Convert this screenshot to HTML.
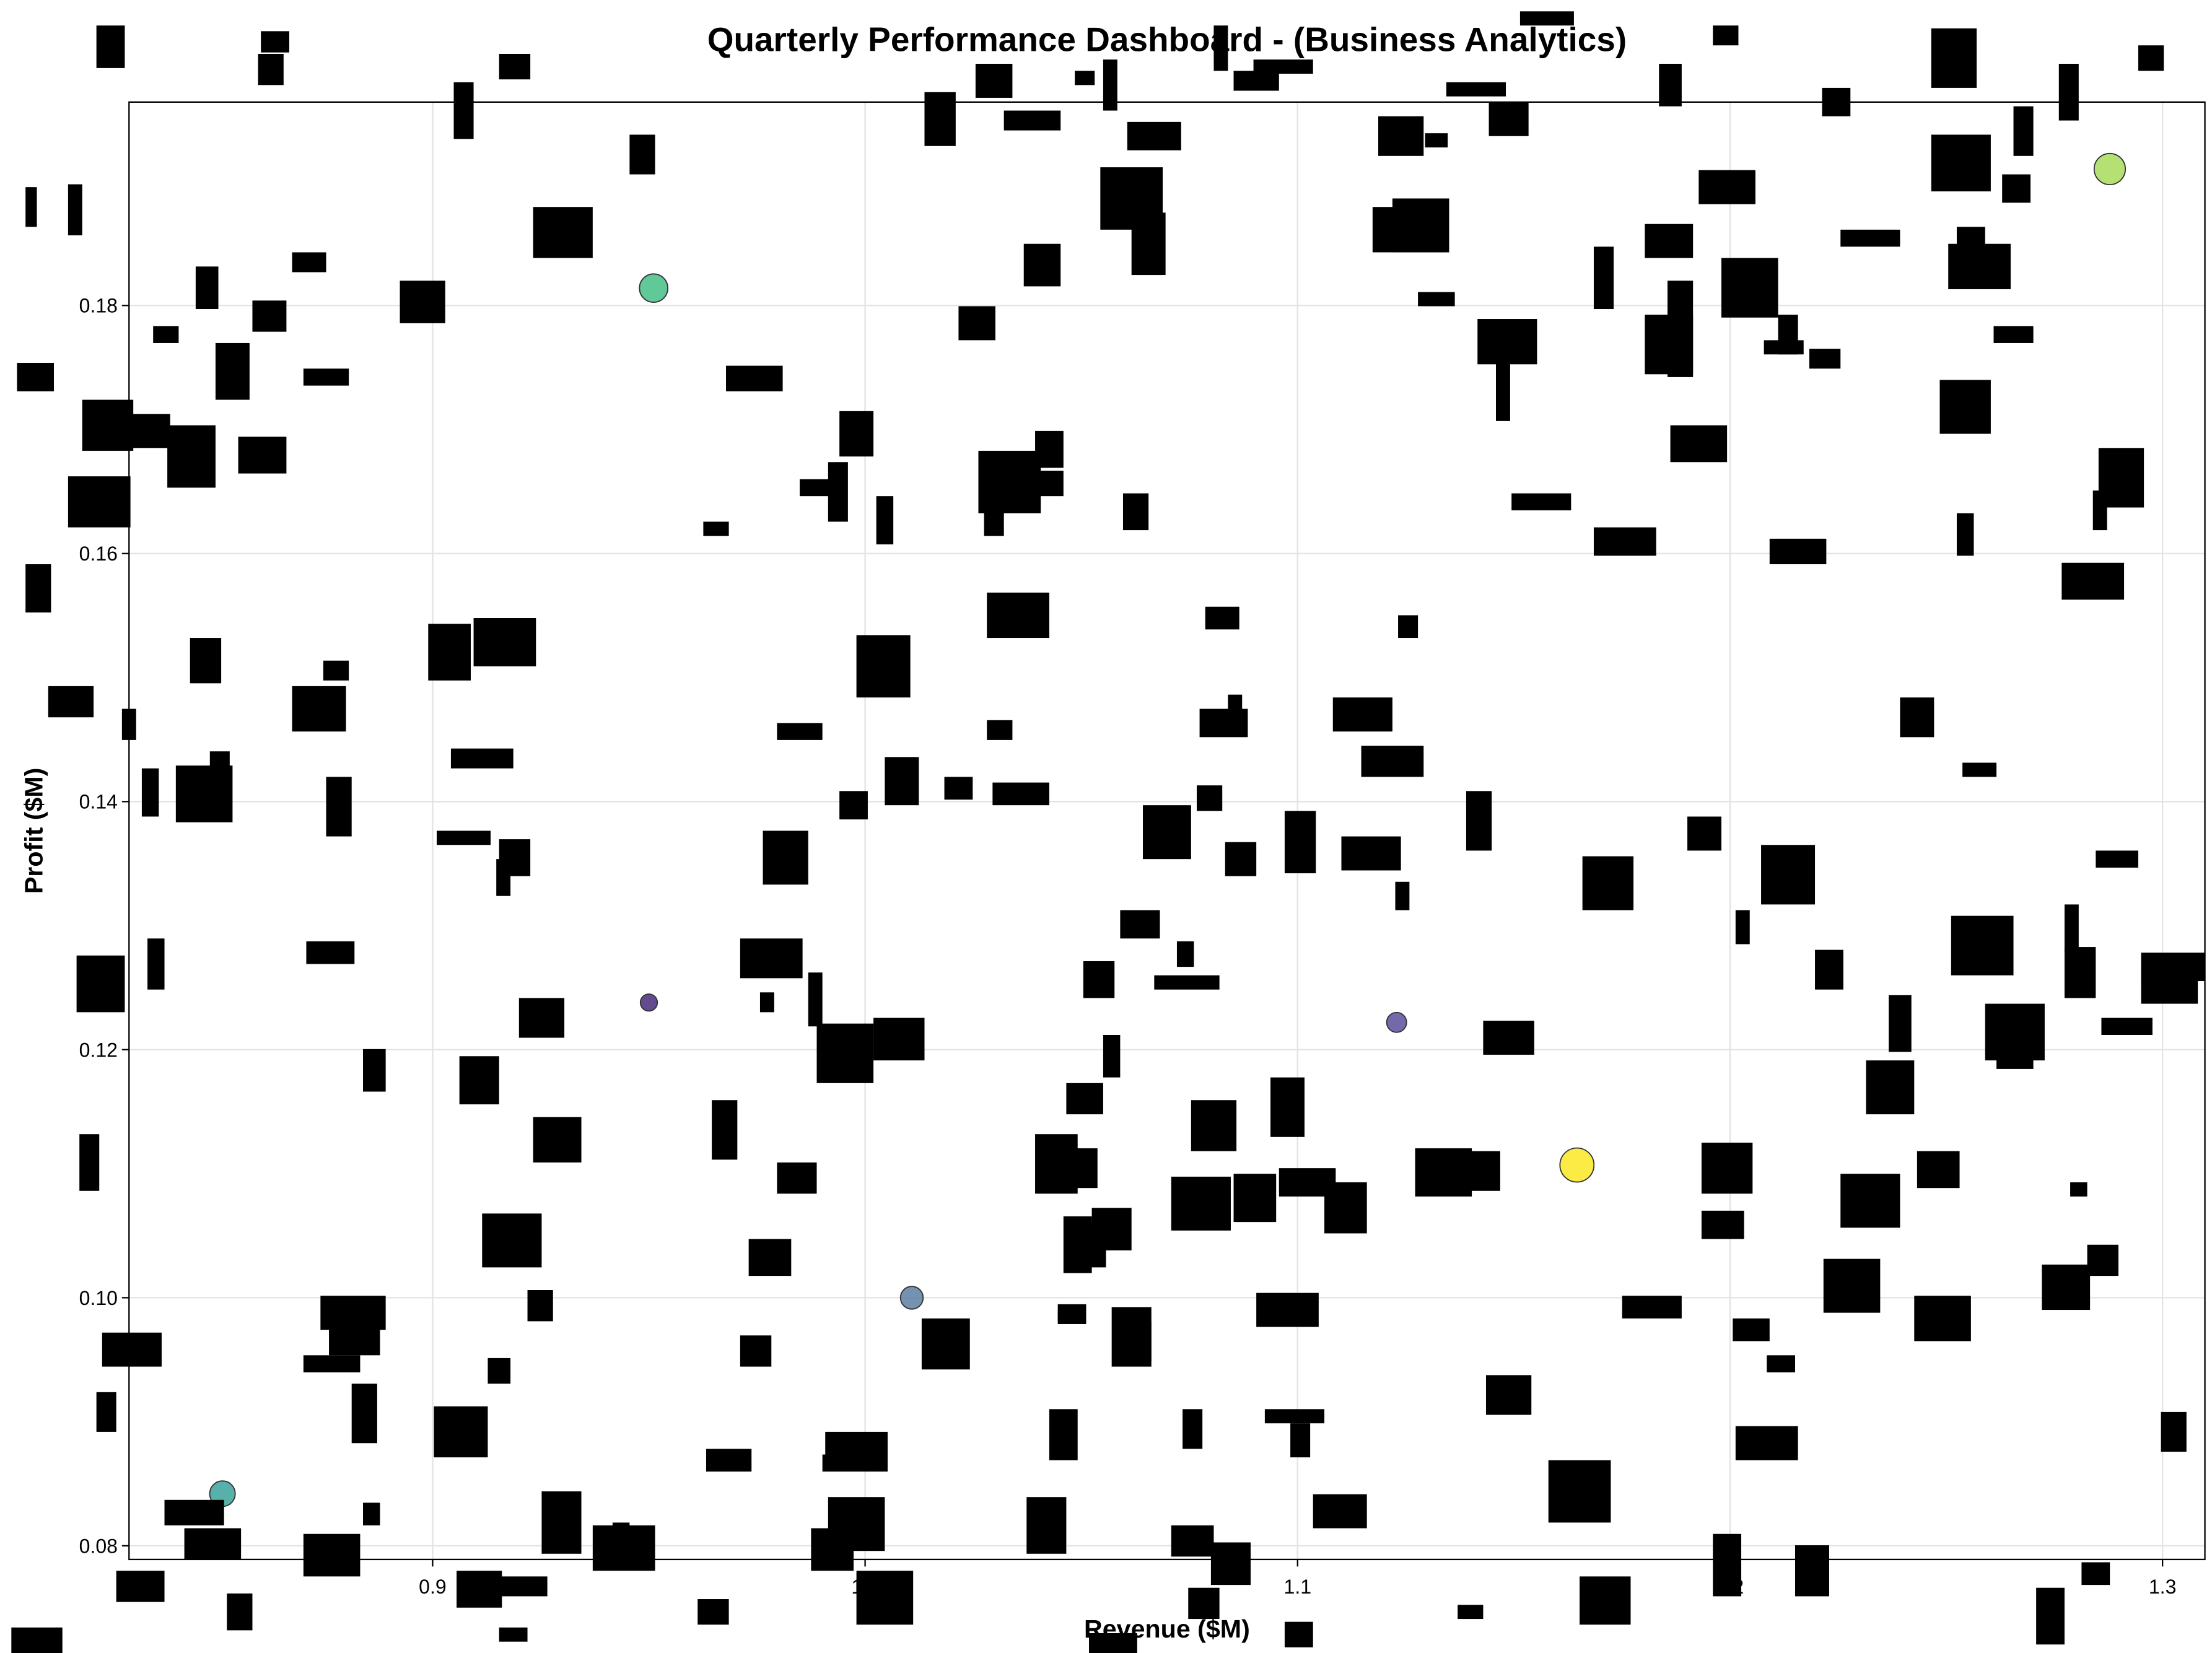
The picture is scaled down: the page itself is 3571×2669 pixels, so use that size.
<!DOCTYPE html>
<html><head><meta charset="utf-8"><style>
html,body{margin:0;padding:0;background:#fff}
svg{display:block}
text{font-family:"Liberation Sans",Arial,sans-serif}
</style></head><body>
<svg id="chart" width="3571" height="2669" viewBox="0 0 1560 1166" preserveAspectRatio="none" xmlns="http://www.w3.org/2000/svg">
<rect x="0" y="0" width="1560" height="1166" fill="#fff"/>
<g id="grid"></g>
<rect x="91" y="72" width="1464" height="1028" fill="none" stroke="#000" stroke-width="1"/>
<g id="xticks"></g>
<g id="yticks"></g>
<g id="points"></g>
<text x="823" y="36" text-anchor="middle" font-size="24" font-weight="bold">Quarterly Performance Dashboard - (Business Analytics)</text>
<text x="823" y="1155" text-anchor="middle" font-size="18" font-weight="bold">Revenue ($M)</text>
<text x="30" y="586" text-anchor="middle" font-size="18" font-weight="bold" transform="rotate(-90 30 586)">Profit ($M)</text>
<g id="occluders"></g>
</svg>
<script>
const revenue = [0.9500, 1.1229, 1.0108, 0.8514, 0.9511, 1.2878, 1.1646];
const profit  = [0.1238, 0.1222, 0.1000, 0.0842, 0.1814, 0.1910, 0.1107];
const sizes   = [6, 7, 8, 9, 10, 11, 12];
const colors  = ['#472c7a','#5c4f9c','#5d7fa3','#3aa29a','#44bf85','#a8dc5c','#fde725'];
const xTicks = [0.9, 1.0, 1.1, 1.2, 1.3];
const xTickLabels = ['0.9','1.0','1.1','1.2','1.3'];
const yTicks = [0.08, 0.10, 0.12, 0.14, 0.16, 0.18];
const yTickLabels = ['0.08','0.10','0.12','0.14','0.16','0.18'];

const X0=91,X1=1555,Y0=72,Y1=1100, xmin=0.8298,xmax=1.3098,ymin=0.0789,ymax=0.1964;
const sx=v=>X0+(v-xmin)/(xmax-xmin)*(X1-X0);
const sy=v=>Y1-(v-ymin)/(ymax-ymin)*(Y1-Y0);
const NS='http://www.w3.org/2000/svg';
function mk(tag,attrs,parent){const e=document.createElementNS(NS,tag);for(const k in attrs)e.setAttribute(k,attrs[k]);parent.appendChild(e);return e;}
const grid=document.getElementById('grid'),xt=document.getElementById('xticks'),yt=document.getElementById('yticks'),pts=document.getElementById('points');
xTicks.forEach((v,i)=>{const x=sx(v);
 const g=mk('line',{x1:x,x2:x,y1:Y0,y2:Y1,stroke:'#e3e3e3','stroke-width':1},grid);
 
 
 const t=mk('line',{x1:x,x2:x,y1:Y1,y2:Y1+5,stroke:'#000'},xt);
 
 
 const l=mk('text',{x:x,y:Y1+24,'text-anchor':'middle','font-size':14},xt);l.textContent=xTickLabels[i];
 
 
});
yTicks.forEach((v,i)=>{const y=sy(v);
 const g=mk('line',{x1:X0,x2:X1,y1:y,y2:y,stroke:'#e3e3e3','stroke-width':1},grid);
 
 
 const t=mk('line',{x1:X0-5,x2:X0,y1:y,y2:y,stroke:'#000'},yt);
 
 
 const l=mk('text',{x:X0-8,y:y+5,'text-anchor':'end','font-size':14},yt);l.textContent=yTickLabels[i];
 
 
});
revenue.forEach((r,i)=>{
 const c=mk('circle',{cx:sx(r),cy:sy(profit[i]),r:sizes[i],fill:colors[i],'fill-opacity':0.85,stroke:'#333','stroke-width':0.8},pts);
 
 
});
const blocks=[[68,18,20,30],[184,22,20,15],[182,38,18,22],[352,38,22,18],[320,58,14,40],[444,95,18,28],[652,65,22,38],[688,45,26,24],[758,50,14,10],[778,42,10,36],[708,78,40,14],[795,86,38,20],[856,18,10,32],[870,50,32,14],[884,42,42,10],[1020,58,42,10],[1050,72,28,24],[1072,8,38,10],[972,82,32,28],[1005,94,16,10],[1170,45,16,30],[1208,18,18,14],[1285,62,20,20],[1362,20,32,42],[1452,45,14,40],[1508,32,18,18],[1420,75,14,35],[1362,95,42,40],[1412,123,20,20],[18,132,8,28],[48,130,10,36],[776,118,44,44],[798,150,24,44],[376,146,42,36],[722,172,26,30],[968,146,52,32],[1000,206,26,10],[1042,225,42,32],[1055,255,10,42],[1198,120,40,24],[1214,182,40,42],[1160,158,34,24],[1124,174,14,44],[1160,222,34,42],[1176,198,18,68],[1178,300,40,26],[1298,162,42,12],[1374,172,44,32],[1380,160,20,14],[1406,230,28,12],[1244,240,28,10],[1254,222,14,28],[1276,246,22,14],[1368,268,36,38],[1480,316,32,42],[1476,346,10,28],[1454,397,44,26],[1380,362,12,30],[1248,380,40,18],[1124,372,44,20],[1066,348,42,12],[982,140,40,38],
[12,256,26,20],[108,230,18,12],[138,188,16,30],[178,212,24,22],[206,178,24,14],[214,260,32,12],[152,242,24,40],[58,282,36,36],[92,292,28,24],[118,300,34,44],[168,308,34,26],[48,336,44,36],[18,398,18,34],[134,450,22,32],[34,484,32,22],[86,500,10,22],[100,542,12,34],[124,540,40,40],[148,530,14,14],[230,548,18,42],[206,484,38,32],[228,466,18,14],[54,674,34,40],[104,662,12,36],[216,664,34,16],[56,800,14,40],[256,740,16,30],[72,940,42,24],[68,982,14,28],[116,1058,42,18],[130,1078,40,22],[82,1108,34,22],[214,1082,40,30],[226,914,46,24],[232,934,36,22],[214,956,40,12],[248,976,18,42],[256,1060,12,16],[160,1124,18,26],[8,1148,36,20],
[282,198,32,30],[302,440,30,40],[334,436,44,34],[318,528,44,14],[308,586,38,10],[352,592,22,26],[350,606,10,26],[324,745,28,34],[366,704,32,28],[376,788,34,32],[340,856,42,38],[372,910,18,22],[344,958,16,18],[306,992,38,36],[322,1108,32,26],[352,1112,34,14],[352,1148,20,10],[382,1052,28,44],[418,1076,44,32],[432,1074,12,8],[492,1128,22,18],[498,1022,32,16],[522,942,22,22],[528,874,30,26],[548,820,28,22],[502,776,18,42],[522,662,44,28],[536,700,10,14],[570,686,10,38],[576,722,40,42],[616,718,36,30],[582,1010,44,28],[584,1056,40,38],[572,1078,30,30],[604,1108,40,38],[580,1026,20,12],[650,930,34,36],[746,924,12,8],[724,1056,28,40],[740,994,20,36],[604,448,38,44],[624,534,24,34],[592,290,24,32],[564,338,24,12],[584,326,14,42],[618,350,12,34],[496,368,18,10],[512,258,40,18],[538,586,32,38],[548,510,32,12],[592,558,20,20],[666,548,20,16],[700,552,40,16],[696,508,18,14],[696,418,44,32],[690,318,44,44],[694,332,56,18],[730,304,20,26],[694,360,14,18],[676,216,26,24],[792,348,18,26],[778,730,12,30],[764,678,22,26],[752,764,26,22],[730,800,30,42],[742,810,32,28],[750,858,20,40],[756,862,24,32],[770,852,28,30],[746,920,20,14],[784,922,28,42],[790,932,22,28],[790,642,28,20],[806,568,34,38],[844,554,18,18],[864,594,22,24],[846,500,34,20],[866,490,10,16],[850,428,24,16],[830,664,12,18],[814,688,46,10],[840,776,32,36],[826,830,42,38],[870,828,30,34],[896,760,24,42],[902,824,40,20],[934,834,30,36],[906,572,22,44],[940,492,42,24],[960,526,44,22],[946,590,42,24],[984,622,10,20],[986,434,14,16],[892,994,42,10],[886,912,44,24],[910,1004,14,24],[926,1054,38,24],[906,1144,20,18],[768,1152,34,14],[838,1120,22,22],[826,1076,30,22],[854,1088,28,30],[834,994,14,28],[998,810,40,34],[1024,812,34,28],[1046,720,36,24],[1034,558,18,42],[1048,970,32,28],[1092,1030,44,44],[1114,1112,36,34],[1028,1132,18,10],[1116,604,36,38],[1144,914,42,16],[1190,576,24,24],[1224,642,10,24],[1242,596,38,42],[1280,670,20,28],[1200,806,36,36],[1200,854,30,20],[1222,930,26,16],[1246,956,20,12],[1224,1006,44,24],[1208,1082,20,44],[1266,1090,24,36],[1286,888,40,38],[1298,828,42,38],[1316,748,34,38],[1332,702,16,40],[1340,492,24,28],[1352,812,30,26],[1350,914,40,32],[1376,646,44,42],[1400,708,42,40],[1408,730,26,24],[1384,538,24,10],[1456,638,10,34],[1456,668,22,36],[1440,892,34,32],[1472,878,22,22],[1460,834,12,10],[1478,600,30,12],[1482,718,36,12],[1510,672,45,20],[1510,682,40,26],[1524,996,18,28],[1468,1102,20,16],[1436,1120,20,40]];
const occ=document.getElementById('occluders');
blocks.forEach(b=>{
 const r=mk('rect',{x:b[0],y:b[1],width:b[2],height:b[3],fill:'#000'},occ);
 
 
});
</script>
</body></html>
